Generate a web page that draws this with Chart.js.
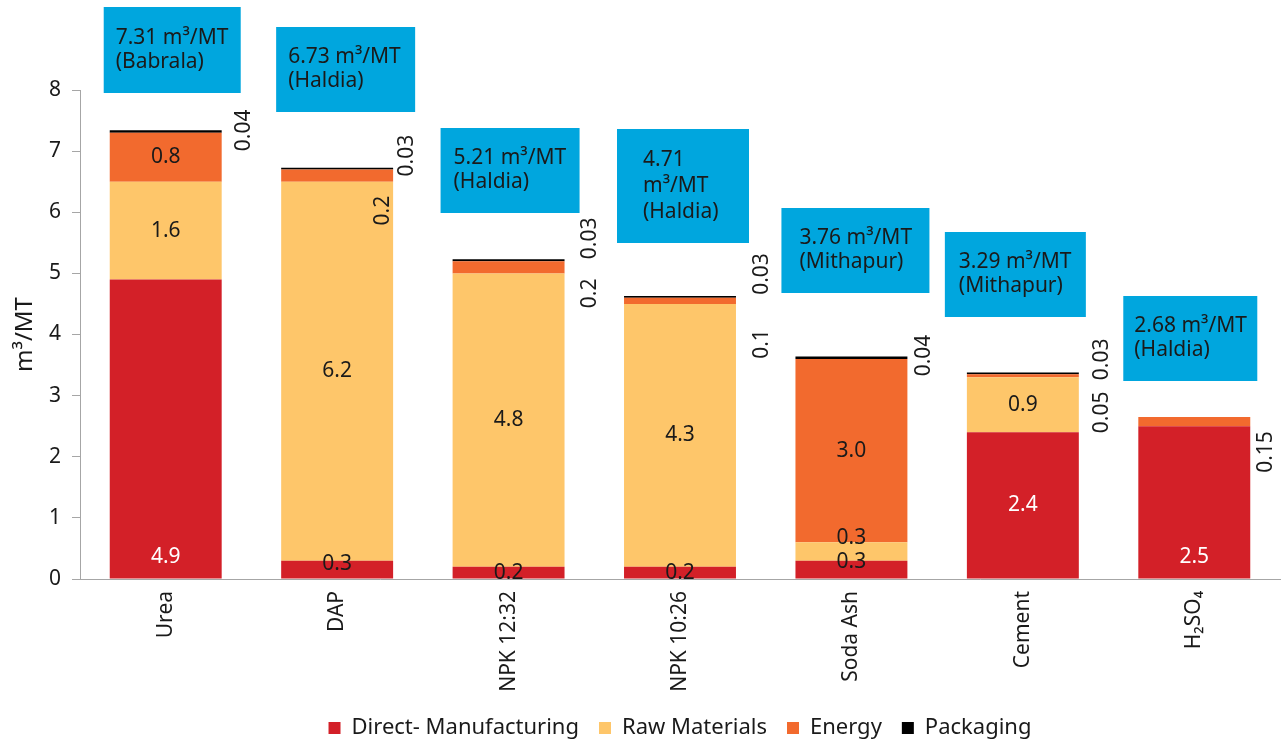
<!DOCTYPE html>
<html>
<head>
<meta charset="utf-8">
<script src="https://cdn.jsdelivr.net/npm/chart.js@4.4.1/dist/chart.umd.min.js"></script>
<style>
    html, body { margin: 0; padding: 0; background: #fff; }
    #wrap { width: 1286px; height: 742px; }
</style>
</head>
<body>
<div id="wrap"><canvas id="waterChart"></canvas></div>
<script>
// water use per tonne of product, m3/MT, split by source
const categories = ['Urea', 'DAP', 'NPK 12:32', 'NPK 10:26', 'Soda Ash', 'Cement', 'H₂SO₄'];
const directMfg = [4.9, 0.3, 0.2, 0.2, 0.3, 2.4, 2.5];
const rawMaterials = [1.6, 6.2, 4.8, 4.3, 0.3, 0.9, null];
const energy = [0.8, 0.2, 0.2, 0.1, 3.0, 0.05, 0.15];
const packaging = [0.04, 0.03, 0.03, 0.03, 0.04, 0.03, null];
const totals = ['7.31', '6.73', '5.21', '4.71', '3.76', '3.29', '2.68'];
const sites = ['Babrala', 'Haldia', 'Haldia', 'Haldia', 'Mithapur', 'Mithapur', 'Haldia'];
const yTicks = [0, 1, 2, 3, 4, 5, 6, 7, 8];

// callout boxes: offset from category centre, top pixel, size, text padding
const boxLayout = [
    { dx: -62, top: 7, w: 137, h: 86, pad: 12 },
    { dx: -61, top: 27, w: 139, h: 85, pad: 12 },
    { dx: -68, top: 128, w: 139, h: 85, pad: 13 },
    { dx: -63, top: 129, w: 132, h: 114, pad: 26, wrap: true },
    { dx: -70, top: 208, w: 148, h: 85, pad: 18 },
    { dx: -78, top: 232, w: 141, h: 85, pad: 14 },
    { dx: -71, top: 296, w: 134, h: 85, pad: 11 },
];

// small values written sideways beside the bar: [dataset, dx from bar right, dy from bar top]
const sideNotes = [
    [[3, 22, 0]],
    [[3, 14, -12], [2, -10, 43]],
    [[3, 25, -21], [2, 25, 34]],
    [[3, 26, -22], [2, 26, 48]],
    [[3, 17, -1]],
    [[3, 23, -13], [2, 23, 40]],
    [[2, 16, 35]],
];

// nudges for labels drawn inside segments, key "category:dataset"
const insideShift = { '1:0': -6, '4:0': -8, '4:1': -13 };
const bottomLabels = ['0:0', '6:0'];

const FONT = '"Noto Sans", "Open Sans", sans-serif';
const TEXT = '#1a1a1a';

const valueLabels = {
    id: 'valueLabels',
    afterDatasetsDraw(chart) {
        const ctx = chart.ctx;
        ctx.save();
        ctx.font = '21px ' + FONT;
        ctx.textAlign = 'center';
        ctx.textBaseline = 'middle';
        chart.data.datasets.forEach((ds, di) => {
            const meta = chart.getDatasetMeta(di);
            meta.data.forEach((bar, i) => {
                const v = ds.data[i];
                if (v == null) return;
                if (di >= 2 && v < 0.3) return;
                const key = i + ':' + di;
                let y = (bar.y + bar.base) / 2;
                if (bottomLabels.includes(key)) y = bar.base - 21;
                if (insideShift[key]) y += insideShift[key];
                ctx.fillStyle = (di === 0 && v >= 1) ? '#fff' : TEXT;
                ctx.fillText(v.toFixed(1), bar.x, y);
            });
        });

        // sideways notes for the thin segments
        sideNotes.forEach((notes, i) => {
            let top = Infinity, right = 0;
            chart.data.datasets.forEach((ds, di) => {
                if (ds.data[i] == null) return;
                const bar = chart.getDatasetMeta(di).data[i];
                top = Math.min(top, bar.y);
                right = bar.x + bar.width / 2;
            });
            notes.forEach(([di, dx, dy]) => {
                const v = chart.data.datasets[di].data[i];
                ctx.save();
                ctx.translate(right + dx, top + dy);
                ctx.rotate(-Math.PI / 2);
                ctx.fillStyle = TEXT;
                ctx.fillText(String(v), 0, 0);
                ctx.restore();
            });
        });
        ctx.restore();
    },
    afterDraw(chart) {
        const ctx = chart.ctx;
        const xs = chart.scales.x;
        ctx.save();
        boxLayout.forEach((b, i) => {
            const left = xs.getPixelForValue(i) + b.dx;
            ctx.fillStyle = '#00a6de';
            ctx.fillRect(left, b.top, b.w, b.h);
            const lines = b.wrap
                ? [totals[i], 'm³/MT', '(' + sites[i] + ')']
                : [totals[i] + ' m³/MT', '(' + sites[i] + ')'];
            const lh = b.wrap ? 26 : 24;
            const mid = b.top + b.h / 2;
            ctx.font = '21px ' + FONT;
            ctx.fillStyle = TEXT;
            ctx.textAlign = 'left';
            ctx.textBaseline = 'middle';
            lines.forEach((t, k) => {
                ctx.fillText(t, left + b.pad, mid + (k - (lines.length - 1) / 2) * lh);
            });
        });
        ctx.restore();
    }
};

const data = {
    labels: categories,
    datasets: [
        { label: 'Direct- Manufacturing', data: directMfg, backgroundColor: '#d32028' },
        { label: 'Raw Materials', data: rawMaterials, backgroundColor: '#fec66a' },
        { label: 'Energy', data: energy, backgroundColor: '#f26a2e' },
        { label: 'Packaging', data: packaging, backgroundColor: '#000000' },
    ],
};

const config = {
    type: 'bar',
    data: data,
    options: {
        responsive: true,
        maintainAspectRatio: false,
        animation: false,
        categoryPercentage: 1,
        barPercentage: 0.653,
        layout: { padding: { top: 90, right: 6, bottom: -7, left: 0 } },
        plugins: {
            legend: {
                position: 'bottom',
                fullSize: false,
                labels: {
                    boxWidth: 12,
                    boxHeight: 12,
                    padding: 20,
                    color: TEXT,
                    font: { family: FONT, size: 22 },
                },
            },
            tooltip: { enabled: false },
        },
        scales: {
            x: {
                stacked: true,
                grid: { display: false },
                border: { display: true, color: '#a6a6a6' },
                ticks: {
                    color: TEXT,
                    font: { family: FONT, size: 21 },
                    minRotation: 90,
                    maxRotation: 90,
                    padding: 4,
                },
                afterFit(scale) {
                    scale.height = 118;
                },
            },
            y: {
                stacked: true,
                min: 0,
                max: 8,
                afterBuildTicks(scale) {
                    scale.ticks = yTicks.map(v => ({ value: v }));
                },
                grid: { drawOnChartArea: false, drawTicks: true, tickLength: 8, color: '#a6a6a6' },
                border: { display: true, color: '#a6a6a6' },
                ticks: { color: TEXT, font: { family: FONT, size: 21 }, padding: 11 },
                title: {
                    display: true,
                    text: 'm³/MT',
                    color: TEXT,
                    font: { family: FONT, size: 24 },
                    padding: { top: 11, bottom: 0 },
                },
                afterFit(scale) {
                    scale.width = 80;
                },
            },
        },
    },
    plugins: [valueLabels],
};

var ctx = document.getElementById('waterChart').getContext('2d');
new Chart(ctx, config);
</script>
</body>
</html>
